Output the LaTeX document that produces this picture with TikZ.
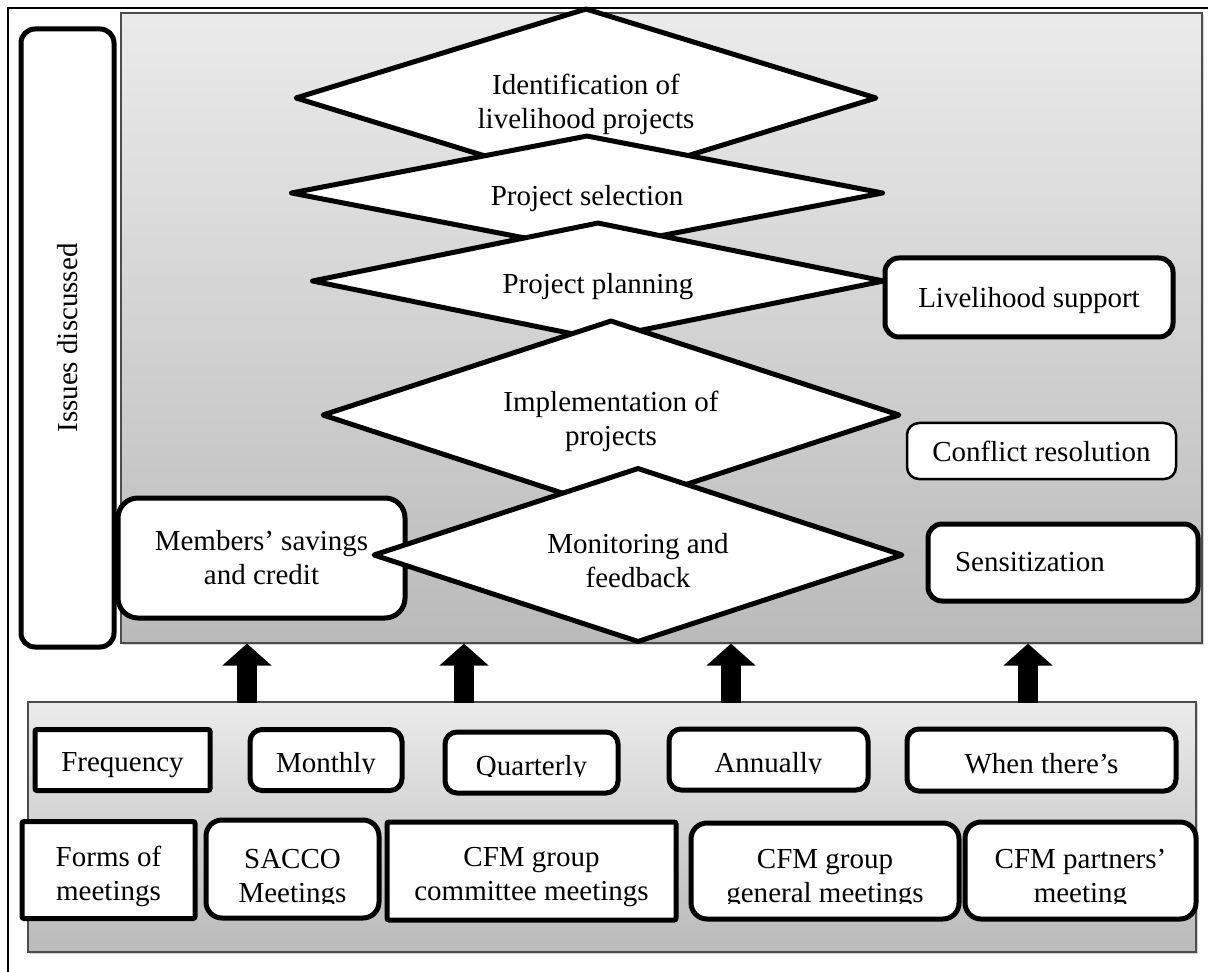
\documentclass[tikz,border=0pt]{standalone}
\usepackage{fontspec}
\setmainfont{Liberation Serif}
\usetikzlibrary{shapes.geometric,arrows.meta,shadows}
\begin{document}
\begin{tikzpicture}[x=0.5pt,y=-0.5pt,
  every node/.style={font=\fontsize{14.5}{17}\selectfont, align=center, inner sep=0pt},
  panel/.style={rectangle, draw=black!70, line width=0.6pt, top color=black!8, bottom color=black!27,
    drop shadow={shadow xshift=1pt,shadow yshift=-1.2pt,opacity=0.35}},
  kite/.style={diamond, aspect=3, draw, line width=2.5pt, line join=round, fill=white},
  rbox/.style={rectangle, rounded corners=7pt, draw, line width=2.5pt, fill=white},
  sbox/.style={rectangle, rounded corners=1pt, draw, line width=2.5pt, fill=white},
  uparrow/.style={line width=10pt, -{Triangle[width=24pt,length=11pt]}},
  lowtext/.style={label={[yshift=-3pt]center:{#1}}},
]
\useasboundingbox (0,0) rectangle (1208,972);

% outer frame
\coordinate (f1) at (8,972);
\coordinate (f2) at (8,8);
\coordinate (f3) at (1208,8);
\draw[line width=1pt] (f1) -- (f2) -- (f3);

% panels
\node[panel, minimum width=540.5pt, minimum height=315pt] (upper) at (661.5,328) {};
\node[panel, minimum width=584pt, minimum height=125pt] (lower) at (612,827) {};

% issues discussed
\node[rbox, rotate=90, minimum width=309pt, minimum height=46.5pt] (issues) at (67.5,338) {Issues discussed};

% diamonds
\node[kite, minimum width=291pt, minimum height=90pt, lowtext={Identification of\\livelihood projects}] (ident) at (586,98) {};
\node[kite, minimum width=296.5pt, minimum height=58pt, lowtext={Project selection}] (select) at (587,193) {};
\node[kite, minimum width=286.5pt, minimum height=59pt, lowtext={Project planning}] (plan) at (598,281) {};
\node[kite, minimum width=289pt, minimum height=95pt, lowtext={Implementation of\\projects}] (impl) at (611,415) {};
\node[rbox, rounded corners=10pt, minimum width=143.5pt, minimum height=60pt] (members) at (261.5,558) {Members’ savings\\and credit};
\node[kite, minimum width=265pt, minimum height=87.5pt, lowtext={Monitoring and\\feedback}] (monit) at (638,555) {};

% right boxes
\node[rbox, minimum width=144pt, minimum height=39.5pt, label={[yshift=-1.5pt]center:Livelihood support}] (liveli) at (1029,297.5) {};
\node[rbox, line width=1.25pt, rounded corners=6pt, minimum width=134.5pt, minimum height=28pt] (conflict) at (1041.5,451) {Conflict resolution};
\node[rbox, text width=108pt, inner xsep=13.5pt, align=left, minimum height=38.5pt] (sensit) at (1063,562.5) {Sensitization};

% arrows
\coordinate (a1) at (247,703);
\coordinate (a2) at (464,703);
\coordinate (a3) at (731,703);
\coordinate (a4) at (1028,703);
\foreach \a in {a1,a2,a3,a4}{\draw[uparrow] (\a) -- (\a |- upper.south);}

% frequency row
\node[sbox, minimum width=87.5pt, minimum height=30.5pt, label={[yshift=-2.5pt]center:Frequency}] (freq) at (122.5,760) {};
\node[rbox, rounded corners=6pt, minimum width=76pt, minimum height=30.5pt] (monthly) at (326,760) {};
\begin{scope}\clip (250,729) rectangle (402,773);
\node[anchor=base] (monthlyT) at (326,772) {Monthly};\end{scope}
\node[rbox, rounded corners=6pt, minimum width=86.5pt, minimum height=30.5pt] (quart) at (531.5,762.5) {};
\begin{scope}\clip (445,732) rectangle (618,776);
\node[anchor=base] (quartT) at (531.5,775) {Quarterly};\end{scope}
\node[rbox, rounded corners=6pt, minimum width=99.5pt, minimum height=30.5pt] (annual) at (768.5,759.5) {};
\begin{scope}\clip (669,729) rectangle (868,773);
\node[anchor=base] (annualT) at (768.5,772) {Annually};\end{scope}
\node[rbox, rounded corners=6pt, minimum width=134.5pt, minimum height=31pt] (when) at (1041.5,760) {};
\node[anchor=base] (whenT) at (1041.5,773) {When there’s};

% forms row
\node[sbox, minimum width=86.5pt, minimum height=48.5pt, lowtext={Forms of\\meetings}] (forms) at (108.5,870) {};
\node[rbox, rounded corners=8pt, minimum width=86.5pt, minimum height=49pt] (sacco) at (292.5,869) {};
\begin{scope}\clip (206,820) rectangle (379,903);
\node (saccoT) at (292.5,879) {SACCO\\Meetings};\end{scope}
\node[sbox, minimum width=144.5pt, minimum height=49pt, lowtext={CFM group\\committee meetings}] (comm) at (531.5,871) {};
\node[rbox, rounded corners=8pt, minimum width=134pt, minimum height=48pt] (general) at (825,871) {};
\begin{scope}\clip (691,823) rectangle (959,903);
\node (generalT) at (825,879) {CFM group\\general meetings};\end{scope}
\node[rbox, rounded corners=8pt, minimum width=115.5pt, minimum height=48.5pt] (partners) at (1080.5,870.5) {};
\begin{scope}\clip (965,822) rectangle (1196,903);
\node (partnersT) at (1080.5,879) {CFM partners’\\meeting};\end{scope}
\end{tikzpicture}
\end{document}
